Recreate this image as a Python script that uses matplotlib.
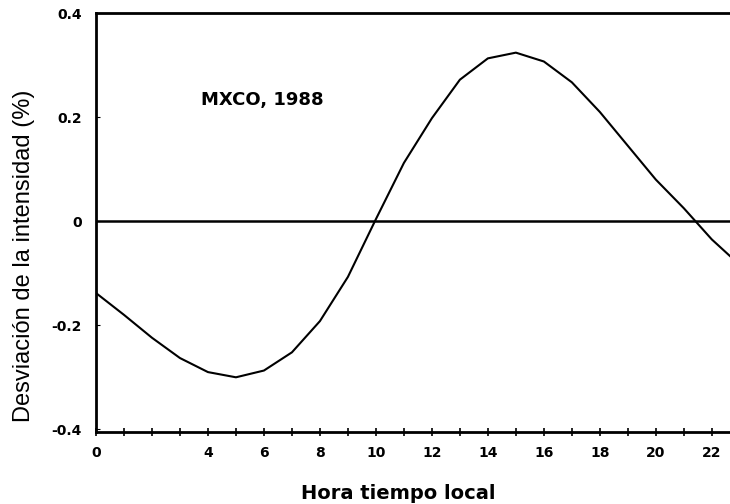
import numpy as np
import matplotlib
matplotlib.use("Agg")
import matplotlib.pyplot as plt
from matplotlib.ticker import FixedLocator, FixedFormatter

# hora local vs desviacion de la intensidad (%)
hours = [0, 1, 2, 3, 4, 5, 6, 7, 8, 9, 10, 11, 12, 13, 14, 15, 16, 17, 18,
         19, 20, 21, 22, 22.65]
deviation = [-0.138, -0.180, -0.224, -0.263, -0.290, -0.300, -0.287, -0.252,
             -0.192, -0.107, 0.004, 0.112, 0.198, 0.272, 0.313, 0.324, 0.307,
             0.267, 0.210, 0.145, 0.080, 0.025, -0.035, -0.067]

x_major = [0, 4, 6, 8, 10, 12, 14, 16, 18, 20, 22]
y_ticks = [0.4, 0.2, 0, -0.2, -0.4]
y_labels = ["0.4", "0.2", "0", "-0.2", "-0.4"]

fig = plt.figure(figsize=(7.3, 5.04), dpi=100)
ax = fig.add_axes([0.1315, 0.143, 0.8685, 0.831])

ax.plot(hours, deviation, color="black", lw=1.5)
ax.axhline(0, color="black", lw=1.8)

ax.set_xlim(0, 22.65)
ax.set_ylim(-0.405, 0.4)

ax.xaxis.set_major_locator(FixedLocator(x_major))
ax.xaxis.set_minor_locator(FixedLocator(list(range(0, 23))))
ax.set_xticklabels([str(v) for v in x_major], fontweight="bold", fontsize=10)
ax.tick_params(axis="x", which="both", direction="inout", length=6, width=1.2, pad=7)

ax.yaxis.set_major_locator(FixedLocator(y_ticks))
ax.yaxis.set_major_formatter(FixedFormatter(y_labels))
for lab in ax.get_yticklabels():
    lab.set_fontweight("bold")
    lab.set_fontsize(10)
ax.tick_params(axis="y", direction="in", length=3, width=0.8, pad=10)

for side in ["left", "top", "bottom"]:
    ax.spines[side].set_linewidth(2)
ax.spines["right"].set_visible(False)

ax.set_xlabel("Hora tiempo local", fontweight="bold", fontsize=14)
ax.xaxis.label.set_va("center")
ax.xaxis.set_label_coords(0.476, -0.146)
ax.set_ylabel("Desviación de la intensidad (%)", fontsize=17, family="Liberation Sans")
ax.yaxis.label.set_va("center")
ax.yaxis.set_label_coords(-0.1136, 0.42)

ax.text(3.75, 0.233, "MXCO, 1988", fontsize=13, fontweight="bold",
        va="center", ha="left")

fig.savefig("out.png", dpi=100)
